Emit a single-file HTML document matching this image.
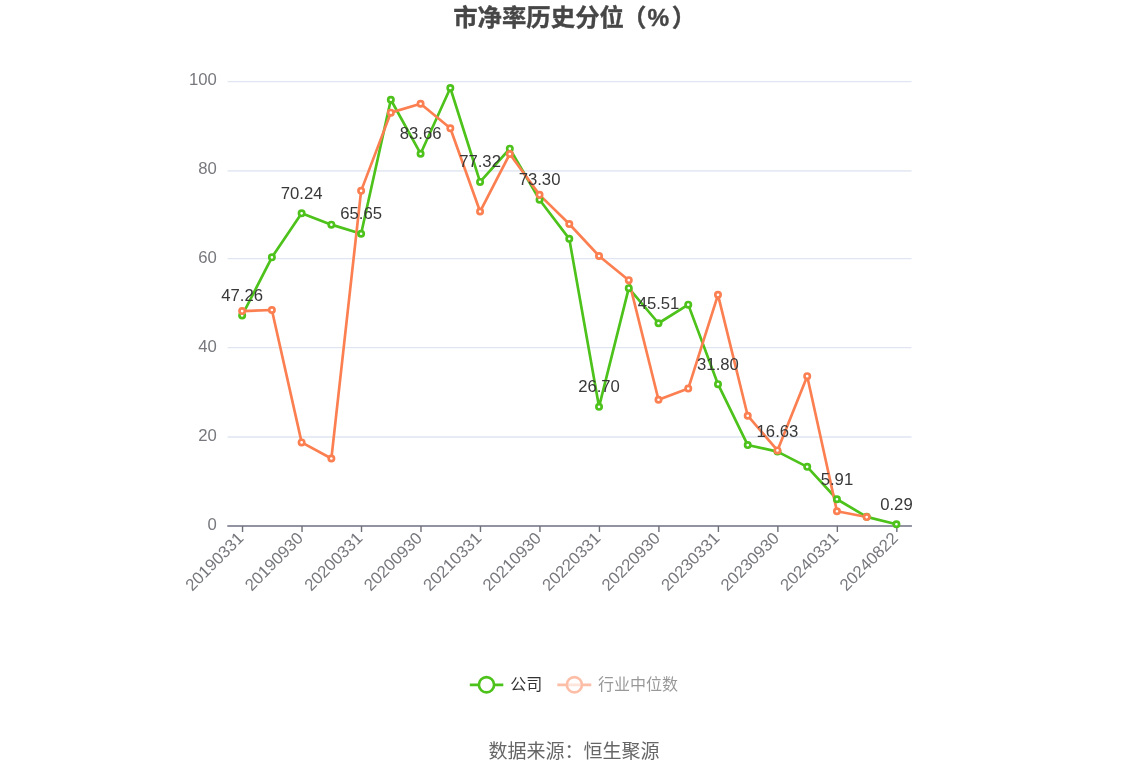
<!DOCTYPE html>
<html lang="zh-CN"><head><meta charset="utf-8"><title>市净率历史分位（%）</title>
<style>html,body{margin:0;padding:0;background:#fff}body{width:1148px;height:776px;overflow:hidden}svg{display:block}text{font-family:"Liberation Sans","Noto Sans CJK SC",sans-serif}</style></head><body>
<svg width="1148" height="776" viewBox="0 0 1148 776">
<rect width="1148" height="776" fill="#fff"/>
<text y="25.6" font-size="24.4" font-weight="bold" fill="#464646" stroke="#464646" stroke-width="0.35"><tspan x="453.2">市净率历史分位</tspan><tspan x="622.1">（</tspan><tspan x="647.5">%</tspan><tspan x="671.8">）</tspan></text>
<g stroke="#e0e6f1">
<line x1="227.6" x2="911.5" y1="436.95" y2="436.95" stroke-width="1.9" stroke-opacity="0.80"/>
<line x1="227.6" x2="911.5" y1="347.55" y2="347.55" stroke-width="1.33" stroke-opacity="1.00"/>
<line x1="227.6" x2="911.5" y1="258.55" y2="258.55" stroke-width="1.33" stroke-opacity="1.00"/>
<line x1="227.6" x2="911.5" y1="170.9" y2="170.9" stroke-width="1.8" stroke-opacity="0.84"/>
<line x1="227.6" x2="911.5" y1="81.6" y2="81.6" stroke-width="1.33" stroke-opacity="1.00"/>
</g>
<g font-size="16.7" fill="#77787d" text-anchor="end">
<text x="216.9" y="529.50">0</text>
<text x="216.9" y="440.62">20</text>
<text x="216.9" y="351.74">40</text>
<text x="216.9" y="262.86">60</text>
<text x="216.9" y="173.98">80</text>
<text x="216.9" y="85.10">100</text>
</g>
<line x1="227.29999999999998" x2="911.9" y1="526.0" y2="526.0" stroke="#9193a0" stroke-width="1.9"/>
<g stroke="#6e7079" stroke-width="1.4">
<line x1="242.55" x2="242.55" y1="526.0" y2="532.0"/>
<line x1="302.03" x2="302.03" y1="526.0" y2="532.0"/>
<line x1="361.51" x2="361.51" y1="526.0" y2="532.0"/>
<line x1="420.99" x2="420.99" y1="526.0" y2="532.0"/>
<line x1="480.47" x2="480.47" y1="526.0" y2="532.0"/>
<line x1="539.95" x2="539.95" y1="526.0" y2="532.0"/>
<line x1="599.43" x2="599.43" y1="526.0" y2="532.0"/>
<line x1="658.91" x2="658.91" y1="526.0" y2="532.0"/>
<line x1="718.39" x2="718.39" y1="526.0" y2="532.0"/>
<line x1="777.87" x2="777.87" y1="526.0" y2="532.0"/>
<line x1="837.35" x2="837.35" y1="526.0" y2="532.0"/>
<line x1="896.83" x2="896.83" y1="526.0" y2="532.0"/>
</g>
<g font-size="16.7" fill="#77787d" text-anchor="end">
<text transform="translate(240.80 535.40) rotate(-45)" x="0" y="5.5">20190331</text>
<text transform="translate(300.28 535.40) rotate(-45)" x="0" y="5.5">20190930</text>
<text transform="translate(359.76 535.40) rotate(-45)" x="0" y="5.5">20200331</text>
<text transform="translate(419.24 535.40) rotate(-45)" x="0" y="5.5">20200930</text>
<text transform="translate(478.72 535.40) rotate(-45)" x="0" y="5.5">20210331</text>
<text transform="translate(538.20 535.40) rotate(-45)" x="0" y="5.5">20210930</text>
<text transform="translate(597.68 535.40) rotate(-45)" x="0" y="5.5">20220331</text>
<text transform="translate(657.16 535.40) rotate(-45)" x="0" y="5.5">20220930</text>
<text transform="translate(716.64 535.40) rotate(-45)" x="0" y="5.5">20230331</text>
<text transform="translate(776.12 535.40) rotate(-45)" x="0" y="5.5">20230930</text>
<text transform="translate(835.60 535.40) rotate(-45)" x="0" y="5.5">20240331</text>
<text transform="translate(895.08 535.40) rotate(-45)" x="0" y="5.5">20240822</text>
</g>
<polyline fill="none" stroke="#4cc21a" stroke-width="2.67" stroke-linejoin="bevel" points="242.15,315.48 271.89,257.30 301.63,213.35 331.37,224.64 361.11,233.75 390.85,99.76 420.59,153.71 450.33,87.99 480.07,181.89 509.81,148.65 539.55,199.75 569.29,238.86 599.03,406.85 628.77,288.19 658.51,323.25 688.25,304.63 717.99,384.18 747.73,445.06 777.47,451.60 807.21,466.84 836.95,499.24 866.69,516.83 896.43,524.21"/>
<polyline fill="none" stroke="#fb7f50" stroke-width="2.67" stroke-linejoin="bevel" points="242.15,311.12 271.89,309.97 301.63,442.40 331.37,458.53 361.11,190.87 390.85,112.65 420.59,103.76 450.33,128.21 480.07,211.53 509.81,153.98 539.55,194.87 569.29,223.97 599.03,255.97 628.77,280.19 658.51,399.73 688.25,388.62 717.99,294.86 747.73,415.73 777.47,450.40 807.21,376.18 836.95,511.28 866.69,517.06"/>
<g fill="#fff" stroke="#4cc21a" stroke-width="2.67">
<circle cx="242.15" cy="315.48" r="2.67"/>
<circle cx="271.89" cy="257.30" r="2.67"/>
<circle cx="301.63" cy="213.35" r="2.67"/>
<circle cx="331.37" cy="224.64" r="2.67"/>
<circle cx="361.11" cy="233.75" r="2.67"/>
<circle cx="390.85" cy="99.76" r="2.67"/>
<circle cx="420.59" cy="153.71" r="2.67"/>
<circle cx="450.33" cy="87.99" r="2.67"/>
<circle cx="480.07" cy="181.89" r="2.67"/>
<circle cx="509.81" cy="148.65" r="2.67"/>
<circle cx="539.55" cy="199.75" r="2.67"/>
<circle cx="569.29" cy="238.86" r="2.67"/>
<circle cx="599.03" cy="406.85" r="2.67"/>
<circle cx="628.77" cy="288.19" r="2.67"/>
<circle cx="658.51" cy="323.25" r="2.67"/>
<circle cx="688.25" cy="304.63" r="2.67"/>
<circle cx="717.99" cy="384.18" r="2.67"/>
<circle cx="747.73" cy="445.06" r="2.67"/>
<circle cx="777.47" cy="451.60" r="2.67"/>
<circle cx="807.21" cy="466.84" r="2.67"/>
<circle cx="836.95" cy="499.24" r="2.67"/>
<circle cx="866.69" cy="516.83" r="2.67"/>
<circle cx="896.43" cy="524.21" r="2.67"/>
</g>
<g fill="#fff" stroke="#fb7f50" stroke-width="2.67">
<circle cx="242.15" cy="311.12" r="2.67"/>
<circle cx="271.89" cy="309.97" r="2.67"/>
<circle cx="301.63" cy="442.40" r="2.67"/>
<circle cx="331.37" cy="458.53" r="2.67"/>
<circle cx="361.11" cy="190.87" r="2.67"/>
<circle cx="390.85" cy="112.65" r="2.67"/>
<circle cx="420.59" cy="103.76" r="2.67"/>
<circle cx="450.33" cy="128.21" r="2.67"/>
<circle cx="480.07" cy="211.53" r="2.67"/>
<circle cx="509.81" cy="153.98" r="2.67"/>
<circle cx="539.55" cy="194.87" r="2.67"/>
<circle cx="569.29" cy="223.97" r="2.67"/>
<circle cx="599.03" cy="255.97" r="2.67"/>
<circle cx="628.77" cy="280.19" r="2.67"/>
<circle cx="658.51" cy="399.73" r="2.67"/>
<circle cx="688.25" cy="388.62" r="2.67"/>
<circle cx="717.99" cy="294.86" r="2.67"/>
<circle cx="747.73" cy="415.73" r="2.67"/>
<circle cx="777.47" cy="450.40" r="2.67"/>
<circle cx="807.21" cy="376.18" r="2.67"/>
<circle cx="836.95" cy="511.28" r="2.67"/>
<circle cx="866.69" cy="517.06" r="2.67"/>
</g>
<g font-size="16.7" fill="#383838" text-anchor="middle">
<text x="242.15" y="300.98">47.26</text>
<text x="301.63" y="198.85">70.24</text>
<text x="361.11" y="219.25">65.65</text>
<text x="420.59" y="139.21">83.66</text>
<text x="480.07" y="167.39">77.32</text>
<text x="539.55" y="185.25">73.30</text>
<text x="599.03" y="392.35">26.70</text>
<text x="658.51" y="308.75">45.51</text>
<text x="717.99" y="369.68">31.80</text>
<text x="777.47" y="437.10">16.63</text>
<text x="836.95" y="484.74">5.91</text>
<text x="896.43" y="509.71">0.29</text>
</g>
<g><line x1="469.8" x2="503.3" y1="684.8" y2="684.8" stroke="#4cc21a" stroke-width="2.67"/><circle cx="486.5" cy="684.8" r="7.6" fill="#fff" stroke="#4cc21a" stroke-width="2.67"/><text x="510.3" y="690.3" font-size="16" fill="#333">公司</text></g>
<g opacity="0.5"><line x1="557.3" x2="591.3" y1="684.8" y2="684.8" stroke="#fb7f50" stroke-width="2.67"/><circle cx="574.4" cy="684.8" r="7.6" fill="#fff" fill-opacity="0.6" stroke="#fb7f50" stroke-width="2.67"/><text x="598" y="690.3" font-size="16" fill="#333">行业中位数</text></g>
<text x="574" y="757.5" text-anchor="middle" font-size="19" fill="#666">数据来源：恒生聚源</text>
</svg></body></html>
